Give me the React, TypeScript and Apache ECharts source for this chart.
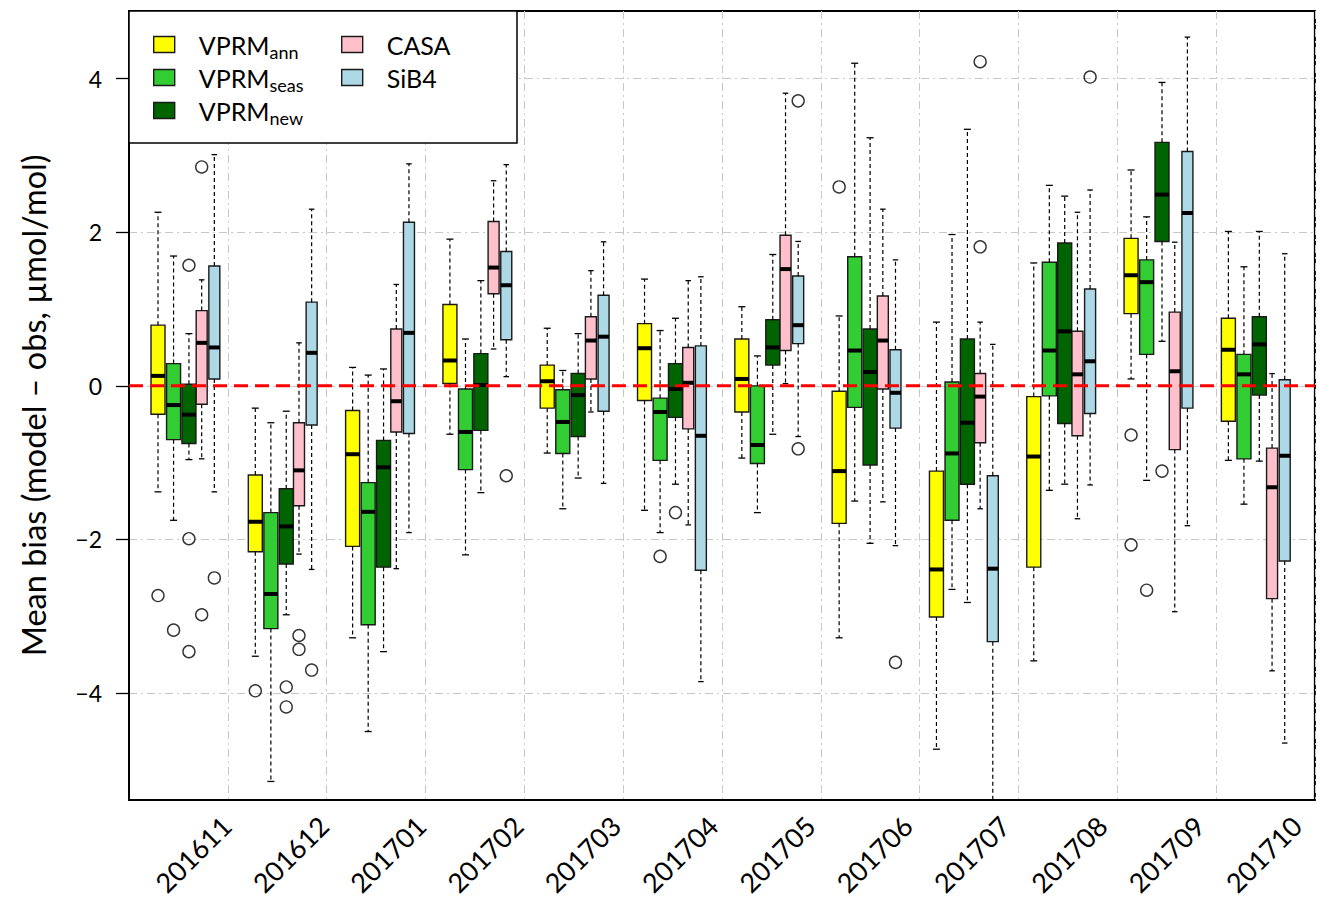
import React, { useEffect, useRef } from 'react';
import * as echarts from 'echarts';

// ---- categories ----
const months = ['201611', '201612', '201701', '201702', '201703', '201704', '201705', '201706', '201707', '201708', '201709', '201710'];
const yTicks = [-4, -2, 0, 2, 4];

// ---- VPRM_ann (five-number summaries per month) ----
const annMin = [-1.38, -3.52, -3.28, -0.63, -0.875, -1.62, -0.94, -3.28, -4.73, -3.58, 0.09, -0.97];
const annQ1 = [-0.37, -2.16, -2.09, 0.03, -0.29, -0.19, -0.34, -1.79, -3.01, -2.36, 0.94, -0.46];
const annMed = [0.13, -1.77, -0.89, 0.33, 0.06, 0.49, 0.09, -1.11, -2.39, -0.92, 1.44, 0.47];
const annQ3 = [0.79, -1.16, -0.32, 1.06, 0.27, 0.81, 0.61, -0.07, -1.11, -0.14, 1.92, 0.88];
const annMax = [2.26, -0.29, 0.24, 1.91, 0.75, 1.39, 1.03, 0.91, 0.83, 1.6, 2.81, 2.01];
const annOut: [string, number][] = [['201611', -2.73], ['201612', -3.97], ['201706', 2.59], ['201709', -0.64], ['201709', -2.07]];

// ---- VPRM_seas ----
const seasMin = [-1.75, -5.15, -4.5, -2.2, -1.6, -1.91, -1.65, -1.5, -2.65, -1.36, -1.23, -1.54];
const seasQ1 = [-0.7, -3.16, -3.11, -1.09, -0.88, -0.97, -1.01, -0.28, -1.75, -0.13, 0.41, -0.95];
const seasMed = [-0.25, -2.71, -1.64, -0.6, -0.47, -0.34, -0.77, 0.46, -0.88, 0.46, 1.35, 0.15];
const seasQ3 = [0.29, -1.65, -1.26, -0.04, -0.05, -0.16, 0.0, 1.68, 0.05, 1.61, 1.64, 0.41];
const seasMax = [1.69, -0.48, 0.14, 0.61, 0.2, 0.72, 0.39, 4.2, 1.97, 2.61, 2.2, 1.55];
const seasOut: [string, number][] = [['201611', -3.18], ['201704', -2.22], ['201709', -2.66]];

// ---- VPRM_new ----
const newMin = [-0.96, -2.98, -3.46, -1.39, -1.2, -1.28, -0.63, -2.05, -2.82, -1.28, 0.58, -0.98];
const newQ1 = [-0.75, -2.32, -2.36, -0.58, -0.66, -0.41, 0.27, -1.03, -1.28, -0.49, 1.88, -0.12];
const newMed = [-0.375, -1.83, -1.06, 0.01, -0.12, -0.04, 0.5, 0.18, -0.48, 0.71, 2.49, 0.54];
const newQ3 = [0.02, -1.34, -0.71, 0.42, 0.16, 0.29, 0.86, 0.74, 0.61, 1.86, 3.17, 0.9];
const newMax = [0.68, -0.33, 0.22, 1.37, 0.68, 0.88, 1.71, 3.23, 3.34, 2.47, 3.95, 2.01];
const newOut: [string, number][] = [['201611', 1.57], ['201611', -1.99], ['201611', -3.46], ['201612', -3.92], ['201612', -4.18], ['201704', -1.65], ['201709', -1.11]];

// ---- CASA ----
const casaMin = [-0.95, -2.19, -2.38, 0.48, -0.34, -1.81, 0.03, -1.51, -1.6, -1.73, -2.94, -3.71];
const casaQ1 = [-0.24, -1.56, -0.6, 1.2, 0.09, -0.56, 0.46, -0.04, -0.74, -0.65, -0.83, -2.77];
const casaMed = [0.56, -1.1, -0.2, 1.54, 0.59, 0.04, 1.52, 0.59, -0.14, 0.15, 0.19, -1.32];
const casaQ3 = [0.98, -0.48, 0.74, 2.14, 0.9, 0.5, 1.96, 1.17, 0.16, 0.71, 0.96, -0.81];
const casaMax = [1.38, 0.56, 1.32, 2.67, 1.5, 1.37, 3.81, 2.3, 0.83, 2.26, 1.87, 0.16];
const casaOut: [string, number][] = [['201611', 2.85], ['201611', -2.98], ['201612', -3.25], ['201612', -3.43], ['201707', 4.22], ['201707', 1.81]];

// ---- SiB4 ----
const sibMin = [-1.38, -2.39, -1.91, 0.12, -1.27, -3.85, -0.66, -2.08, -5.6, -1.29, -1.82, -4.65];
const sibQ1 = [0.09, -0.51, -0.62, 0.6, -0.33, -2.4, 0.55, -0.55, -3.33, -0.36, -0.29, -2.28];
const sibMed = [0.5, 0.43, 0.69, 1.31, 0.64, -0.65, 0.79, -0.09, -2.38, 0.32, 2.25, -0.91];
const sibQ3 = [1.56, 1.09, 2.13, 1.75, 1.18, 0.52, 1.43, 0.47, -1.17, 1.26, 3.05, 0.08];
const sibMax = [3.01, 2.3, 2.89, 2.88, 1.875, 1.42, 1.88, 1.64, 0.54, 2.55, 4.54, 1.72];
const sibOut: [string, number][] = [['201611', -2.5], ['201612', -3.7], ['201702', -1.17], ['201705', 3.71], ['201705', -0.82], ['201706', -3.6], ['201708', 4.02]];

// ---- model layout / style (not data) ----
const models = [
  { name: 'VPRM_ann', color: '#ffff00', width: 14, offset: -0.702, stats: [annMin, annQ1, annMed, annQ3, annMax], out: annOut },
  { name: 'VPRM_seas', color: '#32cd32', width: 14, offset: -0.542, stats: [seasMin, seasQ1, seasMed, seasQ3, seasMax], out: seasOut },
  { name: 'VPRM_new', color: '#006400', width: 14, offset: -0.384, stats: [newMin, newQ1, newMed, newQ3, newMax], out: newOut },
  { name: 'CASA', color: '#ffc0cb', width: 11, offset: -0.253, stats: [casaMin, casaQ1, casaMed, casaQ3, casaMax], out: casaOut },
  { name: 'SiB4', color: '#add8e6', width: 11, offset: -0.123, stats: [sibMin, sibQ1, sibMed, sibQ3, sibMax], out: sibOut },
];

const FONT = 'Lato';
const Y_MIN = -5.39;
const Y_MAX = 4.88;
const X_MAX = 12.187;
const GRID_DASH = [8, 4, 2, 4];
const GRID_COLOR = '#c8c8c8';
const BOX_BORDER = '#1a1a1a';

const whiskerRenderer = (boxWidth: number) => (params: any, api: any) => {
  const x = api.value(0);
  const cs = params.coordSys;
  const top = cs.y;
  const bottom = cs.y + cs.height;
  const pt = (v: number) => api.coord([x, v]);
  const [cx, yMin] = pt(api.value(1));
  const yQ1 = pt(api.value(2))[1];
  const yMed = pt(api.value(3))[1];
  const yQ3 = pt(api.value(4))[1];
  const yMax = pt(api.value(5))[1];
  const clamp = (y: number) => Math.max(top, Math.min(bottom, y));
  const dash = { stroke: '#000', lineWidth: 1.2, lineDash: [4, 3], fill: null };
  const solid = { stroke: '#000', lineWidth: 1.3, fill: null };
  const half = boxWidth / 4;
  const children: any[] = [
    { type: 'line', shape: { x1: cx, y1: yQ3, x2: cx, y2: clamp(yMax) }, style: dash },
    { type: 'line', shape: { x1: cx, y1: yQ1, x2: cx, y2: clamp(yMin) }, style: dash },
  ];
  if (yMax >= top) children.push({ type: 'line', shape: { x1: cx - half, y1: yMax, x2: cx + half, y2: yMax }, style: solid });
  if (yMin <= bottom) children.push({ type: 'line', shape: { x1: cx - half, y1: yMin, x2: cx + half, y2: yMin }, style: solid });
  children.push({ type: 'rect', shape: { x: cx - boxWidth / 2, y: yMed - 2, width: boxWidth, height: 4 }, style: { fill: '#000' } });
  return { type: 'group', children };
};

const legendFormatter = (name: string) => {
  if (name.startsWith('VPRM_')) return `{s| }{a|VPRM}{b|${name.slice(5)}}`;
  return `{s| }{a|${name}}`;
};

const legendRich = {
  s: { width: 19, fontSize: 10, lineHeight: 33 },
  a: { fontSize: 25, fontFamily: FONT, color: '#000', lineHeight: 33 },
  b: { fontSize: 18, fontFamily: FONT, color: '#000', lineHeight: 20, verticalAlign: 'bottom' },
};

const legendItems = (names: string[]) =>
  names.map((n) => {
    const m = models.find((mm) => mm.name === n)!;
    return { name: n, icon: 'rect', itemStyle: { color: m.color, borderColor: BOX_BORDER, borderWidth: 1.4 } };
  });

export default function App() {
  const ref = useRef<HTMLDivElement>(null);

  useEffect(() => {
    if (!ref.current) return;
    const chart = echarts.init(ref.current, null, { renderer: 'svg' });

    const boxAxis = (showLabels: boolean) => ({
      type: 'value',
      gridIndex: 0,
      position: 'bottom',
      min: 0,
      max: X_MAX,
      interval: 1,
      axisLine: { show: false, onZero: false },
      axisTick: { show: false },
      splitLine: { show: false },
      axisLabel: showLabels
        ? {
            show: true,
            rotate: 45,
            margin: 21,
            fontSize: 27,
            fontFamily: FONT,
            color: '#000',
            formatter: (v: number) => (Number.isInteger(v) && v >= 1 && v <= months.length ? months[v - 1] : ''),
          }
        : { show: false },
    });

    const xAxes: any[] = [
      {
        type: 'value',
        gridIndex: 0,
        position: 'bottom',
        min: 0,
        max: 12,
        interval: 1,
        axisLine: { show: false, onZero: false },
        axisTick: { show: false },
        axisLabel: { show: false },
        splitLine: { show: true, lineStyle: { color: GRID_COLOR, width: 1, type: GRID_DASH } },
      },
    ];
    models.forEach((_, i) => xAxes.push(boxAxis(i === 0)));

    const series: any[] = [];
    models.forEach((m, i) => {
      const [mn, q1, md, q3, mx] = m.stats;
      series.push({
        type: 'boxplot',
        name: m.name,
        xAxisIndex: i + 1,
        yAxisIndex: 0,
        silent: true,
        boxWidth: [m.width, m.width],
        itemStyle: { color: m.color, borderColor: BOX_BORDER, borderWidth: 1.4 },
        z: 2,
        data: months.map((_, k) => [k + 1 + m.offset, q1[k], q1[k], md[k], q3[k], q3[k]]),
      });
      series.push({
        type: 'custom',
        xAxisIndex: i + 1,
        yAxisIndex: 0,
        silent: true,
        z: 3,
        encode: { x: 0, y: [1, 2, 3, 4, 5] },
        renderItem: whiskerRenderer(m.width),
        data: months.map((_, k) => [k + 1 + m.offset, mn[k], q1[k], md[k], q3[k], mx[k]]),
      });
      series.push({
        type: 'scatter',
        xAxisIndex: i + 1,
        yAxisIndex: 0,
        silent: true,
        z: 4,
        symbol: 'circle',
        symbolSize: 12,
        itemStyle: { color: 'rgba(255,255,255,0)', borderColor: '#000', borderWidth: 1.4 },
        data: m.out.map(([mon, v]) => [months.indexOf(mon) + 1 + m.offset, v]),
      });
    });

    // zero reference line
    series.push({
      type: 'line',
      xAxisIndex: 0,
      yAxisIndex: 0,
      silent: true,
      z: 10,
      symbol: 'none',
      lineStyle: { color: '#ff0000', width: 3, type: [14, 7] },
      data: [[0, 0], [12, 0]],
    });

    const legendBase = {
      top: 28,
      orient: 'vertical',
      padding: 0,
      itemWidth: 21,
      itemHeight: 16,
      itemGap: 0,
      icon: 'rect',
      selectedMode: false,
      z: 10,
      formatter: legendFormatter,
      textStyle: { height: 33, lineHeight: 33, rich: legendRich },
    };

    chart.setOption({
      animation: false,
      backgroundColor: '#ffffff',
      grid: { left: 129, top: 11, right: 1, bottom: 94, show: true, borderColor: '#000', borderWidth: 2, backgroundColor: 'transparent' },
      xAxis: xAxes,
      yAxis: {
        type: 'value',
        min: Y_MIN,
        max: Y_MAX,
        name: 'Mean bias (model \u2013 obs, \u00b5mol/mol)',
        nameLocation: 'middle',
        nameGap: 79,
        nameTextStyle: { fontSize: 32.5, fontFamily: FONT, color: '#000' },
        axisLine: { show: true, onZero: false, lineStyle: { color: '#000', width: 2 } },
        axisTick: { show: true, length: 13, customValues: yTicks, lineStyle: { color: '#000', width: 1.3 } },
        axisLabel: {
          customValues: yTicks,
          margin: 27,
          fontSize: 23,
          fontFamily: FONT,
          color: '#000',
          formatter: (v: number) => (v < 0 ? '\u2212' + Math.abs(v) : String(v)),
        },
        splitLine: { show: true, lineStyle: { color: GRID_COLOR, width: 1, type: GRID_DASH } },
      },
      legend: [
        { ...legendBase, left: 153, data: legendItems(['VPRM_ann', 'VPRM_seas', 'VPRM_new']) },
        { ...legendBase, left: 341, data: legendItems(['CASA', 'SiB4']) },
      ],
      graphic: [
        {
          type: 'rect',
          z: 5,
          shape: { x: 129, y: 11, width: 388, height: 132 },
          style: { fill: '#ffffff', stroke: '#000', lineWidth: 1.5 },
        },
      ],
      series,
    });

    return () => chart.dispose();
  }, []);

  return <div ref={ref} style={{ position: 'fixed', left: 0, top: 0, width: 1317, height: 899 }} />;
}
